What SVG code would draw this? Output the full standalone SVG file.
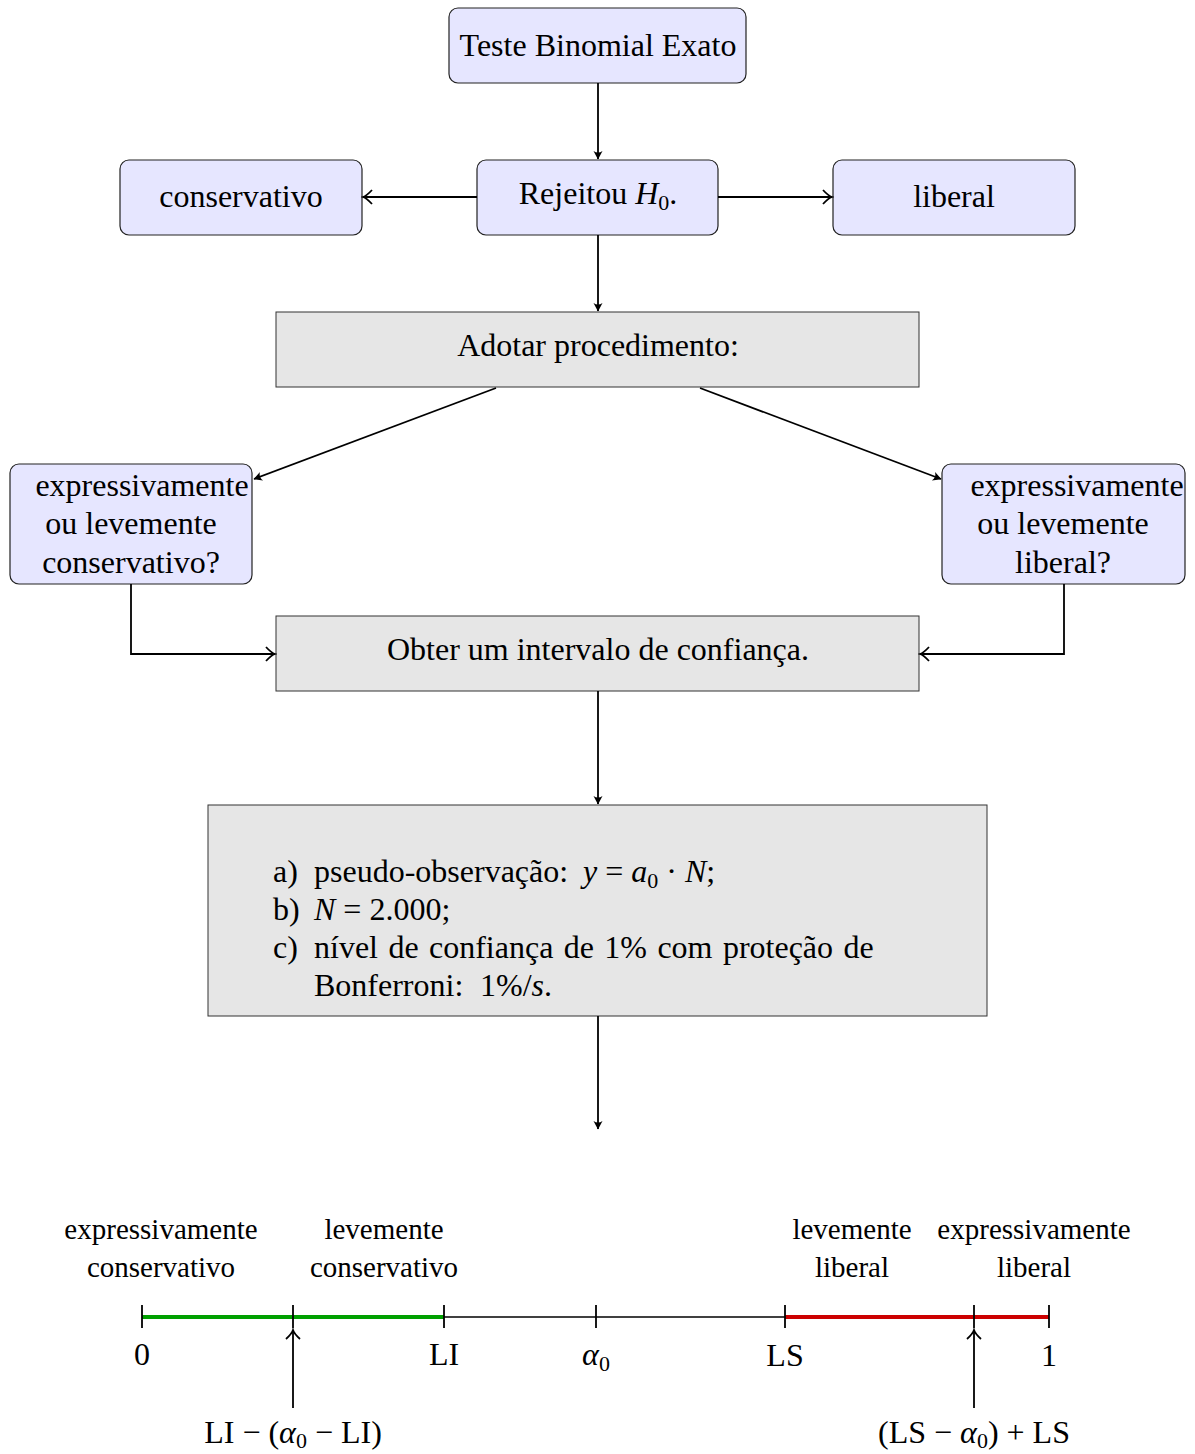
<svg xmlns="http://www.w3.org/2000/svg" width="1195" height="1454" viewBox="0 0 1195 1454">
<style>
text{font-family:"Liberation Serif","Times New Roman",serif;fill:#000}
.t{font-size:32px}
.s{font-size:29px}
.m{text-anchor:middle}
.i{font-style:italic}
.sub{font-size:22px}
.blue{fill:#e6e6ff;stroke:#222;stroke-width:1.2}
.gray{fill:#e6e6e6;stroke:#333;stroke-width:1}
.c{fill:none;stroke:#000;stroke-width:1.8}
</style>
<defs>
<marker id="ah" viewBox="-10 -6 12 12" refX="0" refY="0" markerWidth="12" markerHeight="12" markerUnits="userSpaceOnUse" orient="auto">
<path d="M0.5,0 L-8,-4.5 Q-5,0 -8,4.5 Z" fill="#000"/>
</marker>
<marker id="hk" viewBox="-11 -8 13 16" refX="0" refY="0" markerWidth="13" markerHeight="16" markerUnits="userSpaceOnUse" orient="auto">
<path d="M-9,-7 Q-3.5,-1 0,0 Q-3.5,1 -9,7" fill="none" stroke="#000" stroke-width="1.8"/>
</marker>
</defs>

<g id="n-teste"><rect class="blue" x="449" y="8" width="297" height="75" rx="9"/><text class="t m" x="598" y="56">Teste Binomial Exato</text></g>
<g id="n-rejeitou"><rect class="blue" x="477" y="160" width="241" height="75" rx="9"/><text class="t m" x="598" y="204">Rejeitou <tspan class="i">H</tspan><tspan class="sub" dy="6">0</tspan><tspan dy="-6">.</tspan></text></g>
<g id="n-conservativo"><rect class="blue" x="120" y="160" width="242" height="75" rx="9"/><text class="t m" x="241" y="207">conservativo</text></g>
<g id="n-liberal"><rect class="blue" x="833" y="160" width="242" height="75" rx="9"/><text class="t m" x="954" y="207">liberal</text></g>
<g id="n-adotar"><rect class="gray" x="276" y="312" width="643" height="75"/><text class="t m" x="598" y="356">Adotar procedimento:</text></g>
<g id="n-qcons"><rect class="blue" x="10" y="464" width="242" height="120" rx="9"/>
<text class="t m" x="142" y="496">expressivamente</text><text class="t m" x="131" y="534">ou levemente</text><text class="t m" x="131" y="573">conservativo?</text></g>
<g id="n-qlib"><rect class="blue" x="942" y="464" width="243" height="120" rx="9"/>
<text class="t m" x="1077" y="496">expressivamente</text><text class="t m" x="1063" y="534">ou levemente</text><text class="t m" x="1063" y="573">liberal?</text></g>
<g id="n-obter"><rect class="gray" x="276" y="616" width="643" height="75"/><text class="t m" x="598" y="660">Obter um intervalo de confiança.</text></g>
<g id="n-proc"><rect class="gray" x="208" y="805" width="779" height="211"/>
<text class="t" x="273" y="882">a)</text><text class="t" x="314" y="882">pseudo-observação:</text>
<text class="t" x="583" y="882"><tspan class="i">y</tspan> = <tspan class="i">a</tspan><tspan class="sub" dy="6">0</tspan><tspan dy="-6"> · </tspan><tspan class="i">N</tspan>;</text>
<text class="t" x="273" y="920">b)</text><text class="t" x="314" y="920"><tspan class="i">N</tspan> = 2.000;</text>
<text class="t" x="273" y="958">c)</text><text class="t" x="314" y="958" word-spacing="2.4">nível de confiança de 1% com proteção de</text>
<text class="t" x="314" y="996">Bonferroni:<tspan x="480">1%/</tspan><tspan class="i">s</tspan>.</text></g>

<g id="connectors">
<line class="c" x1="598" y1="83" x2="598" y2="159" marker-end="url(#ah)"/>
<line class="c" x1="477" y1="197" x2="363" y2="197" marker-end="url(#hk)"/>
<line class="c" x1="718" y1="197" x2="832" y2="197" marker-end="url(#hk)"/>
<line class="c" x1="598" y1="235" x2="598" y2="311" marker-end="url(#ah)"/>
<line class="c" x1="496" y1="388" x2="254" y2="479" marker-end="url(#ah)"/>
<line class="c" x1="700" y1="388" x2="941" y2="479" marker-end="url(#ah)"/>
<polyline class="c" points="131,584 131,654 275,654" marker-end="url(#hk)"/>
<polyline class="c" points="1064,584 1064,654 920,654" marker-end="url(#hk)"/>
<line class="c" x1="598" y1="691" x2="598" y2="804" marker-end="url(#ah)"/>
<line class="c" x1="598" y1="1016" x2="598" y2="1129" marker-end="url(#ah)"/>
</g>

<g id="axis">
<line x1="444" y1="1317" x2="785" y2="1317" stroke="#000" stroke-width="1.6"/>
<line x1="142" y1="1317" x2="444" y2="1317" stroke="#00a000" stroke-width="4"/>
<line x1="785" y1="1317" x2="1049" y2="1317" stroke="#cc0000" stroke-width="4"/>
<g stroke="#000" stroke-width="1.8">
<line x1="142" y1="1305" x2="142" y2="1328"/><line x1="293" y1="1305" x2="293" y2="1328"/><line x1="444" y1="1305" x2="444" y2="1328"/><line x1="596" y1="1305" x2="596" y2="1328"/><line x1="785" y1="1305" x2="785" y2="1328"/><line x1="974" y1="1305" x2="974" y2="1328"/><line x1="1049" y1="1305" x2="1049" y2="1328"/>
</g>
<line class="c" x1="293" y1="1408" x2="293" y2="1330" marker-end="url(#hk)"/>
<line class="c" x1="974" y1="1408" x2="974" y2="1330" marker-end="url(#hk)"/>
<text class="t m" x="142" y="1365">0</text>
<text class="t m" x="444" y="1365">LI</text>
<text class="t m" x="596" y="1365"><tspan class="i">α</tspan><tspan class="sub" dy="6">0</tspan></text>
<text class="t m" x="785" y="1366">LS</text>
<text class="t m" x="1049" y="1366">1</text>
<text class="t m" x="293" y="1443">LI − (<tspan class="i">α</tspan><tspan class="sub" dy="5">0</tspan><tspan dy="-5"> − LI)</tspan></text>
<text class="t m" x="974" y="1443">(LS − <tspan class="i">α</tspan><tspan class="sub" dy="5">0</tspan><tspan dy="-5">) + LS</tspan></text>
<text class="s m" x="161" y="1239">expressivamente</text><text class="s m" x="161" y="1277">conservativo</text>
<text class="s m" x="384" y="1239">levemente</text><text class="s m" x="384" y="1277">conservativo</text>
<text class="s m" x="852" y="1239">levemente</text><text class="s m" x="852" y="1277">liberal</text>
<text class="s m" x="1034" y="1239">expressivamente</text><text class="s m" x="1034" y="1277">liberal</text>
</g>
</svg>
